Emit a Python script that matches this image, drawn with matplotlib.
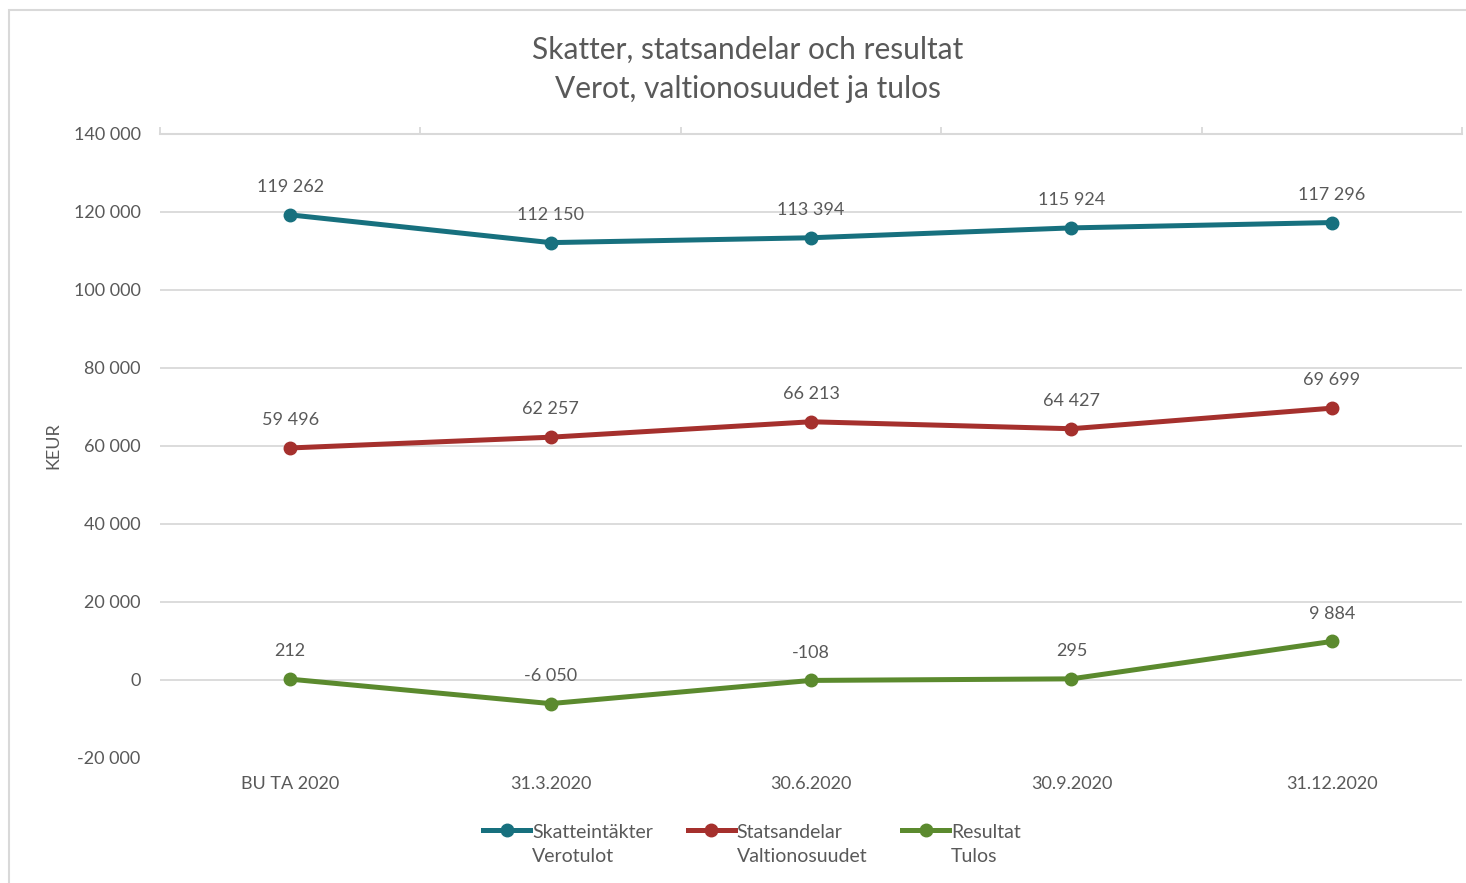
import matplotlib.pyplot as plt
from matplotlib.patches import Rectangle
from matplotlib.legend_handler import HandlerLine2D

plt.rcParams['font.family'] = ['Lato', 'DejaVu Sans']

# data
kategorier = ["BU TA 2020", "31.3.2020", "30.6.2020", "30.9.2020", "31.12.2020"]
skatter = [119262, 112150, 113394, 115924, 117296]
statsandelar = [59496, 62257, 66213, 64427, 69699]
resultat = [212, -6050, -108, 295, 9884]
y_ticks = [-20000, 0, 20000, 40000, 60000, 80000, 100000, 120000, 140000]

serier = [
    (skatter, "Skatteintäkter\nVerotulot", "#17707E"),
    (statsandelar, "Statsandelar\nValtionosuudet", "#A5302D"),
    (resultat, "Resultat\nTulos", "#5B8A2E"),
]

textfarg = "#595959"
linjefarg = "#D9D9D9"


# legendens linje ska sta vid forsta textraden
class ToppHandler(HandlerLine2D):
    def create_artists(self, legend, orig_handle, xdescent, ydescent, width,
                       height, fontsize, trans):
        artister = super().create_artists(legend, orig_handle, xdescent, ydescent,
                                          width, height, fontsize, trans)
        for a in artister:
            a.set_ydata([y + 10 for y in a.get_ydata()])
        return artister


fig = plt.figure(figsize=(14.66, 8.83), dpi=100)
fig.patches.append(Rectangle((9 / 1466, -0.01), 1.1, 1 - 10 / 883 + 0.01,
                             transform=fig.transFigure, fill=False,
                             edgecolor=linjefarg, linewidth=1.5))

ax = fig.add_axes([160 / 1466, 1 - 758 / 883, 1302 / 1466, 624 / 883])

x = range(len(kategorier))
for varden, namn, farg in serier:
    ax.plot(x, varden, color=farg, linewidth=3.6, marker='o', markersize=9,
            label=namn, zorder=3)
    for xi, v in zip(x, varden):
        txt = f"{v:,}".replace(",", " ")
        ax.annotate(txt, (xi, v), xytext=(0, 20), textcoords='offset points',
                    ha='center', va='center', fontsize=13, color=textfarg)

# gridlines (not the bottom one, top is the axis line)
for t in y_ticks[1:-1]:
    ax.axhline(t, color=linjefarg, linewidth=1.3, zorder=1)

ax.set_xlim(-0.5, 4.5)
ax.set_ylim(-20000, 140000)
ax.set_yticks(y_ticks)
ax.set_yticklabels([f"{t:,}".replace(",", " ") for t in y_ticks])
ax.set_xticks(list(x))
ax.set_xticklabels(kategorier)
ax.set_xticks([i - 0.5 for i in range(len(kategorier) + 1)], minor=True)

for s in ['left', 'right', 'bottom']:
    ax.spines[s].set_visible(False)
ax.spines['top'].set_color(linjefarg)
ax.spines['top'].set_linewidth(1.5)

ax.tick_params(axis='y', length=0, pad=14, labelsize=13, labelcolor=textfarg)
ax.tick_params(axis='x', which='major', length=0, pad=13, labelsize=13,
               labelcolor=textfarg)
ax.tick_params(axis='x', which='minor', top=True, bottom=False, direction='out',
               length=5, width=1.3, color=linjefarg)

ax.set_ylabel("KEUR", fontsize=13, color=textfarg)
ax.yaxis.set_label_coords(-0.076, 0.5)

fig.text(748 / 1466, 1 - 69.5 / 883,
         "Skatter, statsandelar och resultat\nVerot, valtionosuudet ja tulos",
         ha='center', va='center', fontsize=21.5, color=textfarg, linespacing=1.5)

leg = fig.legend(loc='center', bbox_to_anchor=(752 / 1466, 1 - 844 / 883), ncol=3,
                 frameon=False, fontsize=14, handlelength=2.4, handletextpad=0.1,
                 columnspacing=1.8, labelcolor=textfarg,
                 handler_map={plt.Line2D: ToppHandler()})
for t in leg.get_texts():
    t.set_linespacing(1.5)

fig.savefig("out.png", dpi=100)
